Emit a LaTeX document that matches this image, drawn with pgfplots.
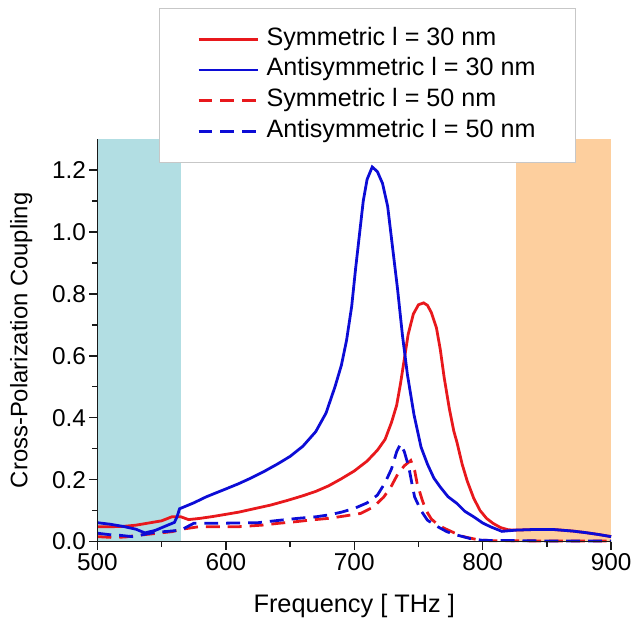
\documentclass[border=0pt]{standalone}
\usepackage{fontspec}
\setmainfont{Liberation Sans}
\usepackage{pgfplots}
\pgfplotsset{compat=1.18}
\definecolor{cyanbg}{RGB}{178,222,227}
\definecolor{orangebg}{RGB}{253,207,158}
\definecolor{cred}{RGB}{232,24,28}
\definecolor{cblue}{RGB}{12,12,214}
\definecolor{axblack}{RGB}{25,25,25}
\begin{document}
\begin{tikzpicture}
\useasboundingbox (-98pt,-78pt) rectangle (538pt,545pt);
\begin{axis}[
  at={(0pt,0pt)}, anchor=south west,
  scale only axis, width=517pt, height=405pt,
  xmin=500, xmax=900, ymin=0, ymax=1.3,
  clip=false,
  font=\fontsize{24.5}{28}\selectfont,
  xticklabel={\pgfmathprintnumber[assume math mode=true]{\tick}},
  yticklabel={\pgfmathprintnumber[assume math mode=true,fixed,fixed zerofill,precision=1]{\tick}},
  axis x line*=bottom, axis y line*=left,
  every outer x axis line/.append style={draw=axblack, line width=1.6pt},
  every outer y axis line/.append style={draw=axblack, line width=1.6pt},
  tick align=outside,
  major tick length=8pt, minor tick length=5pt,
  every tick/.append style={draw=axblack, line width=1.4pt},
  xtick={500,600,700,800,900}, minor x tick num=1,
  ytick={0,0.2,0.4,0.6,0.8,1.0,1.2}, minor y tick num=1,
  xlabel={Frequency [ THz ]},
  ylabel={Cross-Polarization Coupling},
  xlabel style={font=\fontsize{25.5}{28}\selectfont, yshift=-17pt},
  ylabel style={font=\fontsize{24}{28}\selectfont, yshift=13pt},
  legend style={at={(0.12,1.326)}, anchor=north west, draw=black!22, line width=0.8pt,
    inner xsep=38pt, inner ysep=18pt, row sep=5pt,
    nodes={text height=17pt, text depth=5pt, inner sep=2pt},
    /tikz/every odd column/.append style={column sep=5pt},
    font=\fontsize{25.3}{28}\selectfont},
  legend cell align=left,
  legend image code/.code={\draw[#1] (0pt,0pt) -- (60pt,0pt);},
]
\addplot[fill=cyanbg, draw=none, forget plot] coordinates {(500,1.3) (565,1.3)} \closedcycle;
\addplot[fill=orangebg, draw=none, forget plot] coordinates {(826,1.3) (900,1.3)} \closedcycle;

\addplot[cred, line width=2.8pt] coordinates {
(500,0.048) (510,0.048) (520,0.049) (530,0.053) (540,0.060) (550,0.067) (558,0.080) (565,0.080)
(571,0.071) (580,0.075) (590,0.081) (600,0.088) (610,0.095) (623,0.107) (635,0.118) (648,0.133)
(660,0.148) (670,0.162) (680,0.180) (690,0.203) (700,0.228) (710,0.260) (718,0.295) (724,0.330)
(729,0.385) (733,0.440) (736,0.510) (739,0.590) (742,0.670) (746,0.735) (750,0.765) (754,0.771)
(757,0.763) (760,0.740) (764,0.690) (767,0.620) (770,0.530) (774,0.430) (777.5,0.357) (780,0.320)
(784,0.250) (788,0.195) (793,0.140) (798,0.100) (803,0.075) (808,0.059) (814,0.045) (820,0.038)
(826,0.037) (840,0.039) (855,0.039) (870,0.034) (880,0.029) (890,0.023) (900,0.016)};
\addlegendentry{Symmetric l = 30 nm}

\addplot[cblue, line width=2.8pt] coordinates {
(500,0.061) (510,0.056) (520,0.049) (530,0.040) (537,0.028) (545,0.036) (553,0.050) (560,0.062)
(562,0.080) (564,0.106) (575,0.125) (585,0.145) (600,0.170) (610,0.187) (620,0.206) (630,0.227)
(640,0.250) (650,0.275) (660,0.308) (670,0.355) (678,0.415) (685,0.500) (690,0.570) (694,0.650)
(698,0.760) (701,0.880) (704,0.990) (707,1.100) (710,1.170) (714,1.210) (718,1.195) (722,1.157)
(726,1.083) (730,0.944) (733.7,0.816) (737.5,0.667) (741.4,0.539) (746.5,0.410) (752,0.305)
(757,0.250) (762,0.205) (767,0.176) (773,0.145) (780,0.123) (786,0.098) (793,0.080) (800,0.060)
(806,0.048) (815,0.033) (826,0.037) (840,0.039) (855,0.039) (870,0.034) (880,0.029) (890,0.023) (900,0.016)};
\addlegendentry{Antisymmetric l = 30 nm}

\addplot[cred, line width=2.8pt, dash pattern=on 14pt off 8pt] coordinates {
(500,0.016) (513,0.013) (522,0.015) (531,0.020) (545,0.026) (558,0.032) (566,0.040) (579,0.048)
(595,0.048) (610,0.048) (628,0.053) (641,0.059) (654,0.064) (667,0.070) (680,0.075) (693,0.083)
(705,0.091) (715,0.112) (723,0.144) (729,0.180) (734,0.219) (739,0.245) (744,0.262) (747,0.230)
(749,0.187) (753,0.133) (756,0.100) (760,0.073) (765,0.055) (770,0.043) (778,0.028) (785,0.016)
(795,0.007) (805,0.003) (850,0.002) (900,0.002)};
\addlegendentry{Symmetric l = 50 nm}

\addplot[cblue, line width=2.8pt, dash pattern=on 14pt off 8pt] coordinates {
(500,0.027) (510,0.022) (518,0.020) (527,0.016) (535,0.022) (545,0.030) (555,0.033) (565,0.037)
(570,0.048) (575,0.059) (590,0.059) (610,0.060) (625,0.061) (640,0.068) (656,0.075) (670,0.080)
(680,0.086) (690,0.095) (700,0.107) (710,0.125) (718,0.150) (724,0.190) (729,0.235) (733,0.290)
(736,0.315) (739,0.290) (742.5,0.240) (745,0.185) (747,0.144) (752,0.100) (757,0.069) (765,0.048)
(772,0.032) (780,0.021) (790,0.010) (800,0.004) (850,0.002) (900,0.002)};
\addlegendentry{Antisymmetric l = 50 nm}

\draw[axblack, line width=1.6pt] (rel axis cs:0,1) -- (rel axis cs:0,0) -- (rel axis cs:1,0);
\pgfplotsinvokeforeach{500,600,700,800,900}{\draw[axblack, line width=1.4pt] (axis cs:#1,0) -- ++(0pt,-8pt);}
\pgfplotsinvokeforeach{550,650,750,850}{\draw[axblack, line width=1.4pt] (axis cs:#1,0) -- ++(0pt,-5pt);}
\pgfplotsinvokeforeach{0,0.2,0.4,0.6,0.8,1.0,1.2}{\draw[axblack, line width=1.4pt] (axis cs:500,#1) -- ++(-8pt,0pt);}
\pgfplotsinvokeforeach{0.1,0.3,0.5,0.7,0.9,1.1}{\draw[axblack, line width=1.4pt] (axis cs:500,#1) -- ++(-5pt,0pt);}
\end{axis}
\end{tikzpicture}
\end{document}
